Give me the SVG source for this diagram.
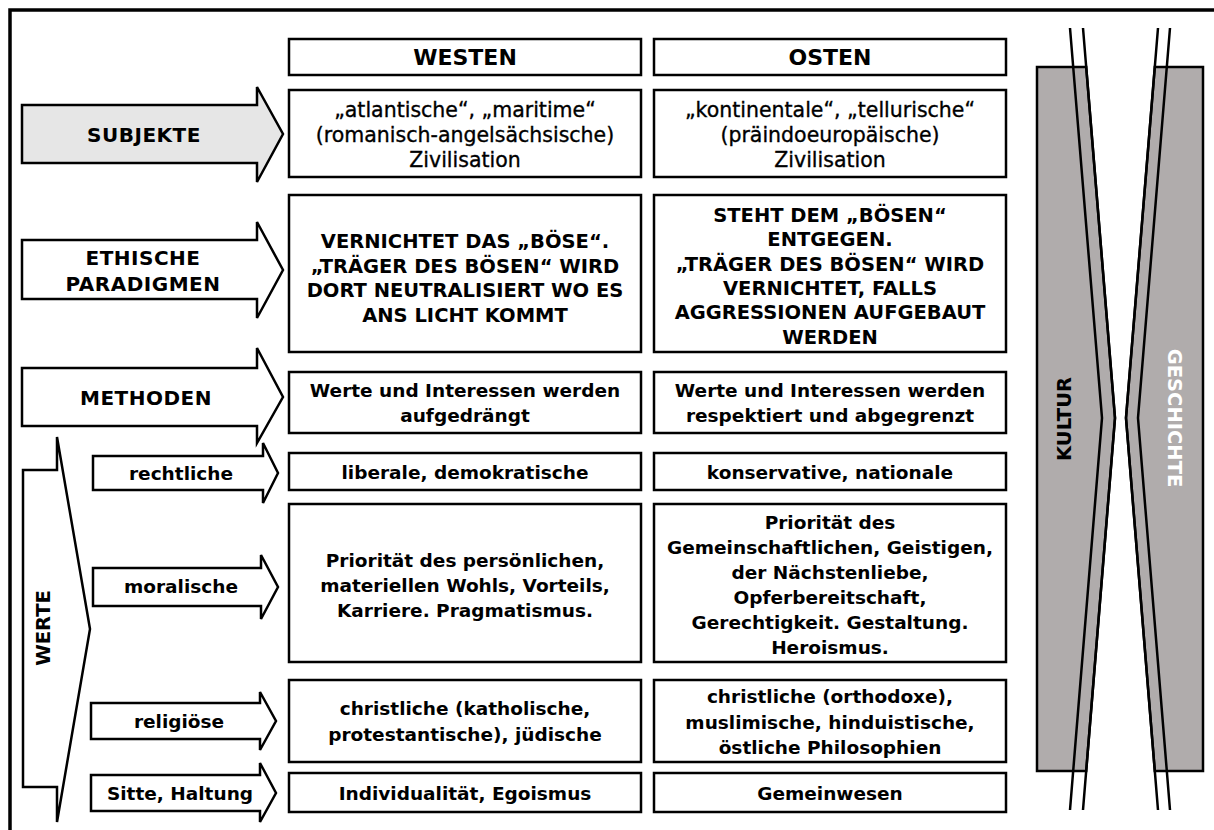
<svg xmlns="http://www.w3.org/2000/svg" width="1214" height="830" viewBox="0 0 1214 830">
<defs>
<style>
.frame{fill:none;stroke:#000;stroke-width:3.5}
.box{fill:#fff;stroke:#000;stroke-width:2.5}
.arr{fill:#fff;stroke:#000;stroke-width:2.5;stroke-linejoin:miter}
.arrg{fill:#e6e6e6;stroke:#000;stroke-width:2.5}
.band{fill:#b0acac;stroke:#000;stroke-width:2.5;stroke-linejoin:miter}
.ln{fill:none;stroke:#000;stroke-width:2.5;stroke-linejoin:miter}
text{font-family:"DejaVu Sans","Liberation Sans",sans-serif;fill:#000;text-anchor:middle}
.hd{font-size:22px;font-weight:bold}
.r1{font-size:20.5px;stroke:#000;stroke-width:0.35}
.r2{font-size:19.5px;font-weight:bold}
.t{font-size:18.5px;font-weight:bold}
.lab{font-size:20px;font-weight:bold;letter-spacing:0.5px}
.sub{font-size:18.5px;font-weight:bold}
.side{font-size:19.5px;font-weight:bold}
</style>
</defs>
<rect width="1214" height="830" fill="#fff"/>
<path class="frame" d="M10,832 V10 H1216"/>

<g id="header-westen"><rect class="box" x="289" y="39" width="352" height="36"/><text class="hd" x="465" y="65">WESTEN</text></g>
<g id="header-osten"><rect class="box" x="654" y="39" width="352" height="36"/><text class="hd" x="830" y="65">OSTEN</text></g>

<g id="arrow-subjekte"><polygon class="arrg" points="22,105 257,105 257,87 283,134 257,182 257,163 22,163"/><text class="lab" x="144" y="142">SUBJEKTE</text></g>
<g id="arrow-ethische"><polygon class="arr" points="22,240 257,240 257,222 283,270 257,318 257,299 22,299"/><text class="lab" x="143" y="265">ETHISCHE</text><text class="lab" x="143" y="291">PARADIGMEN</text></g>
<g id="arrow-methoden"><polygon class="arr" points="22,368 257,368 257,348 283,397 257,443 257,426 22,426"/><text class="lab" x="146" y="405">METHODEN</text></g>
<g id="arrow-werte"><polygon class="arr" points="23,470 57,470 57,437 90,629 57,822 57,787 23,787"/><text class="side" transform="translate(50,628) rotate(-90)" x="0" y="0">WERTE</text></g>
<g id="arrow-rechtliche"><polygon class="arr" points="93,456 263,456 263,443 278,473 263,503 263,490 93,490"/><text class="sub" x="181" y="480">rechtliche</text></g>
<g id="arrow-moralische"><polygon class="arr" points="93,568 261,568 261,555 278,587 261,619 261,606 93,606"/><text class="sub" x="181" y="593">moralische</text></g>
<g id="arrow-religioese"><polygon class="arr" points="91,703 260,703 260,692 276,721 260,750 260,739 91,739"/><text class="sub" x="179" y="728">religiöse</text></g>
<g id="arrow-sitte"><polygon class="arr" points="91,775 260,775 260,763 276,793 260,822 260,811 91,811"/><text class="sub" x="180" y="800">Sitte, Haltung</text></g>

<g id="west-subjekte"><rect class="box" x="289" y="90" width="352" height="87"/>
<text class="r1" x="465" y="117">„atlantische“, „maritime“</text><text class="r1" x="465" y="142">(romanisch-angelsächsische)</text><text class="r1" x="465" y="167">Zivilisation</text></g>
<g id="east-subjekte"><rect class="box" x="654" y="90" width="352" height="87"/>
<text class="r1" x="830" y="117">„kontinentale“, „tellurische“</text><text class="r1" x="830" y="142">(präindoeuropäische)</text><text class="r1" x="830" y="167">Zivilisation</text></g>

<g id="west-ethische"><rect class="box" x="289" y="195" width="352" height="157"/>
<text class="r2" x="465" y="248">VERNICHTET DAS „BÖSE“.</text><text class="r2" x="465" y="272.5">„TRÄGER DES BÖSEN“ WIRD</text><text class="r2" x="465" y="297">DORT NEUTRALISIERT WO ES</text><text class="r2" x="465" y="321.5">ANS LICHT KOMMT</text></g>
<g id="east-ethische"><rect class="box" x="654" y="195" width="352" height="157"/>
<text class="r2" x="830" y="222">STEHT DEM „BÖSEN“</text><text class="r2" x="830" y="246.3">ENTGEGEN.</text><text class="r2" x="830" y="270.6">„TRÄGER DES BÖSEN“ WIRD</text><text class="r2" x="830" y="294.9">VERNICHTET, FALLS</text><text class="r2" x="830" y="319.2">AGGRESSIONEN AUFGEBAUT</text><text class="r2" x="830" y="343.5">WERDEN</text></g>

<g id="west-methoden"><rect class="box" x="289" y="372" width="352" height="61"/>
<text class="t" x="465" y="397">Werte und Interessen werden</text><text class="t" x="465" y="422">aufgedrängt</text></g>
<g id="east-methoden"><rect class="box" x="654" y="372" width="352" height="61"/>
<text class="t" x="830" y="397">Werte und Interessen werden</text><text class="t" x="830" y="422">respektiert und abgegrenzt</text></g>

<g id="west-rechtliche"><rect class="box" x="289" y="453" width="352" height="37"/><text class="t" x="465" y="479">liberale, demokratische</text></g>
<g id="east-rechtliche"><rect class="box" x="654" y="453" width="352" height="37"/><text class="t" x="830" y="479">konservative, nationale</text></g>

<g id="west-moralische"><rect class="box" x="289" y="504" width="352" height="158"/>
<text class="t" x="465" y="567">Priorität des persönlichen,</text><text class="t" x="465" y="592">materiellen Wohls, Vorteils,</text><text class="t" x="465" y="617">Karriere. Pragmatismus.</text></g>
<g id="east-moralische"><rect class="box" x="654" y="504" width="352" height="158"/>
<text class="t" x="830" y="529">Priorität des</text><text class="t" x="830" y="554">Gemeinschaftlichen, Geistigen,</text><text class="t" x="830" y="579">der Nächstenliebe,</text><text class="t" x="830" y="604">Opferbereitschaft,</text><text class="t" x="830" y="629">Gerechtigkeit. Gestaltung.</text><text class="t" x="830" y="654">Heroismus.</text></g>

<g id="west-religioese"><rect class="box" x="289" y="680" width="352" height="82"/>
<text class="t" x="465" y="715">christliche (katholische,</text><text class="t" x="465" y="740.5">protestantische), jüdische</text></g>
<g id="east-religioese"><rect class="box" x="654" y="680" width="352" height="82"/>
<text class="t" x="830" y="703">christliche (orthodoxe),</text><text class="t" x="830" y="729">muslimische, hinduistische,</text><text class="t" x="830" y="754">östliche Philosophien</text></g>

<g id="west-sitte"><rect class="box" x="289" y="773" width="352" height="39"/><text class="t" x="465" y="800">Individualität, Egoismus</text></g>
<g id="east-sitte"><rect class="box" x="654" y="773" width="352" height="39"/><text class="t" x="830" y="800">Gemeinwesen</text></g>

<g id="kultur">
<polygon class="band" points="1037,67 1086.2,67 1115,418 1086.2,771 1037,771"/>
<polyline class="ln" points="1083,28 1115,418 1083,810"/>
<polyline class="ln" points="1070,28 1102,418 1070,810"/>
<text class="side" transform="translate(1071,419) rotate(-90)" x="0" y="0">KULTUR</text>
</g>
<g id="geschichte">
<polygon class="band" points="1203,67 1154.8,67 1126,418 1154.8,771 1203,771"/>
<polyline class="ln" points="1158,28 1126,418 1158,810"/>
<polyline class="ln" points="1170,28 1138,418 1170,810"/>
<text class="side" style="fill:#fff" transform="translate(1168,418) rotate(90)" x="0" y="0">GESCHICHTE</text>
</g>
</svg>
